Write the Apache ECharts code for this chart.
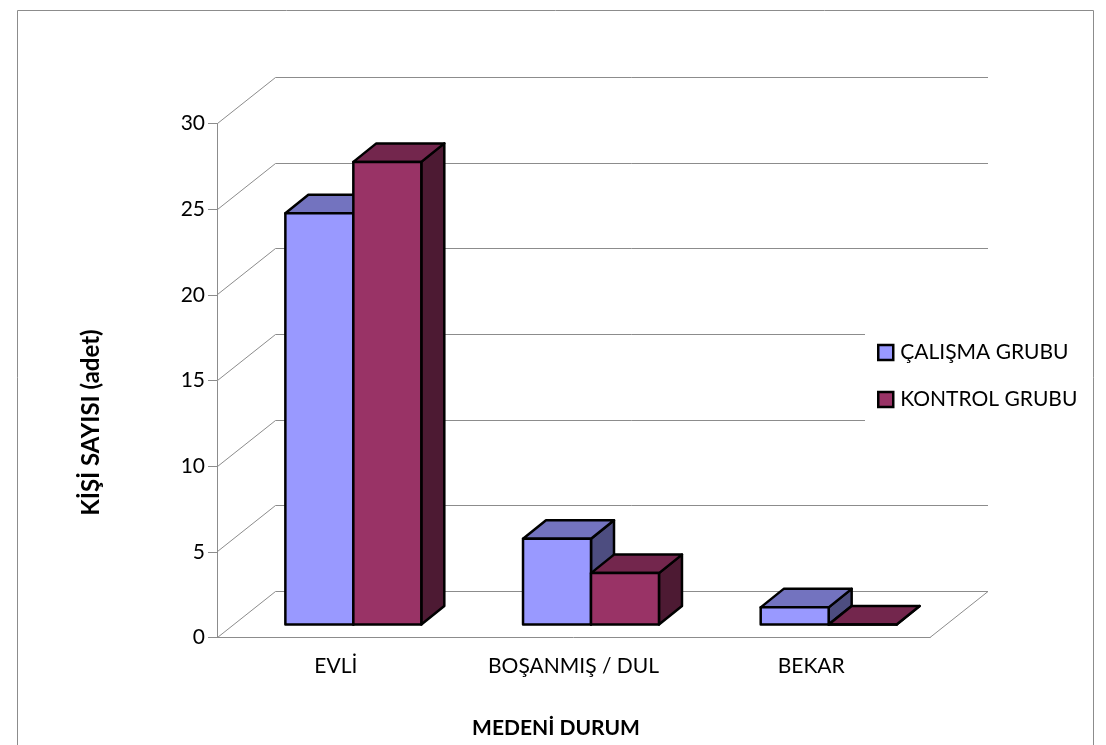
<!DOCTYPE html>
<html>
<head>
<meta charset="utf-8">
<style>
  html, body { margin: 0; padding: 0; background: #fff; overflow: hidden; }
  #chart { width: 1106px; height: 745px; }
</style>
<script src="https://cdn.jsdelivr.net/npm/echarts@6/dist/echarts.min.js"></script>
</head>
<body>
<div id="chart"></div>
<script>
const categories = ['EVLİ', 'BOŞANMIŞ / DUL', 'BEKAR']
const calismaGrubu = [24, 5, 1]
const kontrolGrubu = [27, 3, 0]
const yTicks = [0, 5, 10, 15, 20, 25, 30]

const FONT = 'Lato'
const GRID_COLOR = '#8c8c8c'
// wall depth and bar depth of the fake 3d
const WALL_X = 58
const WALL_Y = 46
const BAR_SHIFT_X = 17.5
const BAR_SHIFT_Y = 13
const BAR_DEPTH_X = 23
const BAR_DEPTH_Y = 18.5

function renderWall(params, api) {
  const grid = params.coordSys
  const y = Math.floor(api.coord([0, api.value(1)])[1]) + 0.5
  const left = grid.x + 0.5
  const right = grid.x + grid.width
  const children = [{
    type: 'polyline',
    shape: { points: [[left, y], [left + WALL_X, y - WALL_Y], [right + WALL_X, y - WALL_Y]] },
    style: { fill: null, stroke: GRID_COLOR, lineWidth: 1 }
  }]
  if (api.value(1) === 0) {
    children.push({
      type: 'line',
      shape: { x1: right, y1: y, x2: right + WALL_X, y2: y - WALL_Y },
      style: { stroke: GRID_COLOR, lineWidth: 1 }
    })
  }
  return { type: 'group', children: children }
}

function face(points, fill) {
  return {
    type: 'polygon',
    shape: { points: points },
    style: { fill: fill, stroke: '#000', lineWidth: 2.5, lineJoin: 'round' }
  }
}

function barRenderer(side, colors) {
  return function(params, api) {
    const idx = api.value(0)
    const top = api.coord([idx, api.value(1)])
    const base = api.coord([idx, 0])
    const w = api.size([1, 0])[0] * 0.286
    const x0 = top[0] + BAR_SHIFT_X + (side < 0 ? -w : 0)
    const x1 = x0 + w
    const y0 = top[1] - BAR_SHIFT_Y
    const y1 = base[1] - BAR_SHIFT_Y
    return {
      type: 'group',
      children: [
        face([[x1, y0], [x1 + BAR_DEPTH_X, y0 - BAR_DEPTH_Y], [x1 + BAR_DEPTH_X, y1 - BAR_DEPTH_Y], [x1, y1]], colors.side),
        face([[x0, y0], [x0 + BAR_DEPTH_X, y0 - BAR_DEPTH_Y], [x1 + BAR_DEPTH_X, y0 - BAR_DEPTH_Y], [x1, y0]], colors.top),
        face([[x0, y0], [x1, y0], [x1, y1], [x0, y1]], colors.front)
      ]
    }
  }
}

const chart = echarts.init(document.getElementById('chart'))
chart.setOption({
  animation: false,
  backgroundColor: '#fff',
  textStyle: { fontFamily: FONT, color: '#000' },
  graphic: [{
    type: 'polyline',
    silent: true,
    shape: { points: [[17.5, 745], [17.5, 10.5], [1093.5, 10.5], [1093.5, 745]] },
    style: { fill: null, stroke: '#8c8c8c', lineWidth: 1 }
  }],
  grid: { left: 217, top: 123.5, width: 713, height: 514 },
  legend: {
    left: 865,
    top: 330,
    orient: 'vertical',
    padding: [12, 10, 12, 12],
    backgroundColor: '#fff',
    icon: 'rect',
    itemWidth: 15,
    itemHeight: 15,
    itemGap: 26,
    itemStyle: { borderWidth: 2.5 },
    data: ['ÇALIŞMA GRUBU', 'KONTROL GRUBU'],
    textStyle: { fontFamily: FONT, fontSize: 21, color: '#000', padding: [0, 0, 0, 2] }
  },
  xAxis: {
    type: 'category',
    data: categories,
    name: 'MEDENİ DURUM',
    nameLocation: 'middle',
    nameGap: 80,
    nameTextStyle: { fontFamily: FONT, fontSize: 21, fontWeight: 'bold', color: '#000', padding: [0, 35, 0, 0] },
    axisLine: { lineStyle: { color: GRID_COLOR } },
    axisTick: { show: false },
    axisLabel: { fontFamily: FONT, fontSize: 21, color: '#000', margin: 18 }
  },
  yAxis: {
    type: 'value',
    min: 0,
    max: 30,
    interval: 5,
    name: 'KİŞİ SAYISI (adet)',
    nameLocation: 'middle',
    nameGap: 114,
    nameTextStyle: { fontFamily: FONT, fontSize: 24, fontWeight: 'bold', color: '#000', padding: [0, 84, 0, 0] },
    axisLine: { show: true, lineStyle: { color: GRID_COLOR } },
    axisTick: { show: true, length: 9, lineStyle: { color: GRID_COLOR } },
    axisLabel: { fontFamily: FONT, fontSize: 21, color: '#000', margin: 12, padding: [4, 0, 0, 0] },
    splitLine: { show: false }
  },
  series: [
    {
      name: 'duvar',
      type: 'custom',
      silent: true,
      renderItem: renderWall,
      encode: { x: 0, y: 1 },
      data: yTicks.map(v => [0, v])
    },
    {
      name: 'ÇALIŞMA GRUBU',
      type: 'custom',
      itemStyle: { color: '#9999ff', borderColor: '#000', borderWidth: 2.5 },
      renderItem: barRenderer(-1, { front: '#9999ff', top: '#7373bf', side: '#4d4d80' }),
      encode: { x: 0, y: 1 },
      data: calismaGrubu.map((v, i) => [i, v])
    },
    {
      name: 'KONTROL GRUBU',
      type: 'custom',
      itemStyle: { color: '#993366', borderColor: '#000', borderWidth: 2.5 },
      renderItem: barRenderer(1, { front: '#993366', top: '#73264d', side: '#4d1a33' }),
      encode: { x: 0, y: 1 },
      data: kontrolGrubu.map((v, i) => [i, v])
    }
  ]
})
</script>
</body>
</html>
